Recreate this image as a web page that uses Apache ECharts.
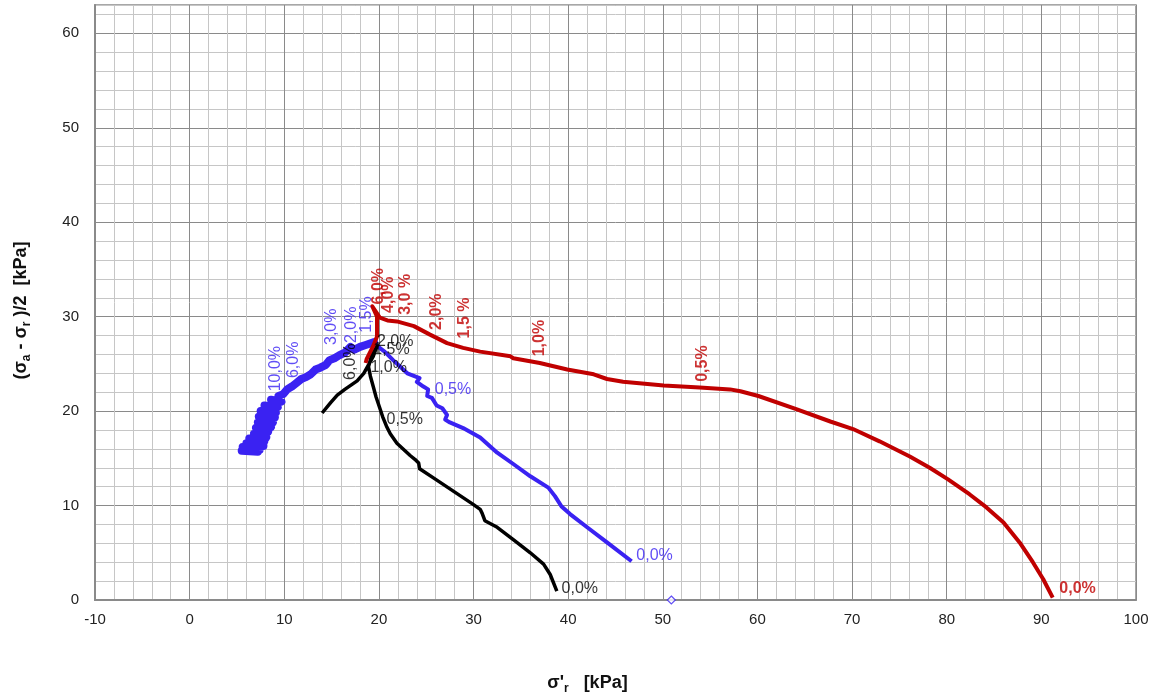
<!DOCTYPE html>
<html>
<head>
<meta charset="utf-8">
<script src="https://cdn.jsdelivr.net/npm/echarts@6/dist/echarts.min.js"></script>
<style>html,body{margin:0;padding:0;background:#fff}#c{width:1156px;height:700px}</style>
</head>
<body>
<div id="c"></div>
<script>
// ---- axis settings ----
const xMin = -10, xMax = 100, yMin = 0, yMax = 63;
const minorStep = 2, majorStep = 10;

// ---- red test (path from 0,0% to end) ----
const redPath = [
[91.2,0.25],[90.2,2.2],[89.1,4.0],[87.7,6.1],[86.0,8.2],[84.2,9.8],[82.4,11.2],[80.1,12.8],[78.2,14.0],[76.1,15.2],
[72.9,16.8],[70.1,18.1],[67.7,18.9],[64.1,20.2],[60.1,21.6],[58.2,22.1],[57.1,22.3],[53.9,22.5],[50.1,22.7],[45.8,23.1],
[44.1,23.4],[42.7,23.9],[39.9,24.4],[37.0,25.1],[34.2,25.6],[33.9,25.8],[30.7,26.3],[28.9,26.7],[27.2,27.2],[25.4,28.1],
[23.7,29.0],[21.9,29.5],[20.9,29.6],[20.1,29.9],[19.3,31.1],[19.8,30.0],[19.8,27.9],[19.4,26.9],[18.7,25.5],[18.6,25.1]
];
const redRotLabels = [[54.2,23.1,'0,5%'],[37.0,25.8,'1,0%'],[29.1,27.7,'1,5 %'],[26.1,28.6,'2,0%'],[22.8,30.2,'3,0 %'],[21.0,30.4,'4,0%'],[20.0,31.3,'6,0%']];
const redFlatLabels = [[91.9,1.2,'0,0%']];

// ---- blue test: loading part (0,0% -> peak) and post-peak band ----
const blueRisePath = [
[46.7,4.1],[44.1,6.1],[42.0,7.7],[40.2,9.1],[39.3,9.9],[38.6,11.0],[37.9,11.9],[36.0,13.1],[34.2,14.4],[32.5,15.6],
[30.7,17.2],[28.9,18.2],[27.5,18.8],[27.0,19.1],[27.2,19.6],[26.7,20.3],[26.1,20.6],[25.6,21.4],[25.1,21.6],[25.2,22.3],
[24.7,22.6],[24.0,23.1],[24.3,23.5],[23.0,24.0],[21.5,25.4],[20.6,26.3],[19.8,26.9],[19.5,27.3]
];
const blueBandPath = [
[19.5,27.3],[18.6,27.0],[18.0,26.8],[17.4,26.5],[17.0,26.8],[16.4,26.2],[15.8,25.9],[15.3,25.6],[14.8,25.4],[14.4,24.9],
[13.8,24.6],[13.3,24.4],[12.8,23.9],[12.3,23.6],[11.8,23.4],[11.3,23.0],[10.8,22.6],[10.3,22.3],[9.9,21.8],[9.4,21.6],
[9.7,21.0],[8.6,21.2],[9.3,20.4],[7.9,20.6],[9.1,19.8],[7.5,20.0],[9.0,19.3],[7.3,19.4],[8.8,18.8],[7.2,18.8],
[8.6,18.3],[7.0,18.2],[8.3,17.8],[6.8,17.6],[8.1,17.2],[6.3,17.1],[7.9,16.8],[6.0,16.6],[7.8,16.3],[5.6,16.2],
[7.4,15.9],[5.5,15.8],[7.2,15.7]
];
const blueRotLabels = [[9.05,22.1,'10,0%'],[11.0,23.5,'6,0%'],[15.0,27.0,'3,0%'],[17.1,27.2,'2,0%'],[18.7,28.3,'1,5%']];
const blueFlatLabels = [[25.9,22.3,'0,5%'],[47.2,4.65,'0,0%']];
const blueMarker = [[50.9,0]];

// ---- black test ----
const blackPath = [
[38.8,0.95],[38.1,2.7],[37.4,3.8],[36.0,5.0],[34.2,6.4],[32.5,7.7],[31.2,8.4],[30.9,9.2],[30.7,9.6],[30.0,10.1],
[27.9,11.5],[25.8,12.9],[24.3,13.9],[24.2,14.5],[23.8,14.9],[23.3,15.3],[21.9,16.6],[21.2,17.6],[20.8,18.4],[20.4,19.4],
[20.1,20.3],[19.7,21.5],[19.4,22.6],[19.1,23.7],[18.9,24.7],[19.2,25.8],[19.8,26.9],
[19.4,25.8],[18.4,24.0],[17.7,23.2],[16.4,22.3],[15.6,21.7],[14.9,20.9],[14.0,19.8]
];
const blackRotLabels = [[17.0,23.3,'6,0%']];
const blackFlatLabels = [[20.8,19.1,'0,5%'],[19.1,24.6,'1,0%'],[19.4,26.5,'1,5%'],[19.8,27.4,'2,0%'],[39.3,1.2,'0,0%']];

const RED = '#C00000', BLUE = '#3A22F2', BLACK = '#000000';
const FONT = 'Liberation Sans';

function labelSeries(data, color, rotated, bold) {
  return {
    type: 'scatter', data: data, symbolSize: 0, silent: true, z: 10,
    encode: {x: 0, y: 1},
    label: {
      show: true, position: [0, 0],
      formatter: p => p.data[2],
      rotate: rotated ? 90 : 0,
      align: 'left', verticalAlign: 'middle',
      color: color, fontSize: 16, fontFamily: FONT,
      fontWeight: bold ? 'bold' : 'normal'
    }
  };
}

const gridColors = ['#8a8a8a', '#c6c6c6', '#c6c6c6', '#c6c6c6', '#c6c6c6'];
const subRich = {
  b: {fontSize: 18, fontWeight: 'bold', fontFamily: FONT, color: '#111'},
  s: {fontSize: 12, fontWeight: 'bold', fontFamily: FONT, color: '#111', padding: [11, 0, 0, 0]}
};

const chart = echarts.init(document.getElementById('c'), null, {renderer: 'canvas'});
chart.setOption({
  animation: false,
  backgroundColor: '#fff',
  grid: {left: 95, right: 20, top: 5, bottom: 99, show: true, borderColor: '#8a8a8a', borderWidth: 1.5},
  xAxis: {
    type: 'value', min: xMin, max: xMax, interval: minorStep,
    axisLine: {show: true, onZero: false, lineStyle: {color: '#8a8a8a', width: 2}},
    axisTick: {show: false},
    axisLabel: {formatter: v => (v % majorStep === 0 ? String(v) : ''), color: '#222', fontSize: 15, fontFamily: FONT, margin: 12, showMaxLabel: true, showMinLabel: true},
    splitLine: {show: true, lineStyle: {color: gridColors, width: 1}},
    name: '{b|σ\'}{s|r}{b|   [kPa]}', nameLocation: 'middle', nameGap: 72,
    nameTextStyle: {rich: subRich, padding: [0, 56, 0, 0]}
  },
  yAxis: {
    type: 'value', min: yMin, max: yMax, interval: minorStep,
    axisLine: {show: true, onZero: false, lineStyle: {color: '#8a8a8a', width: 2}},
    axisTick: {show: false},
    axisLabel: {formatter: v => (v % majorStep === 0 ? String(v) : ''), color: '#222', fontSize: 15, fontFamily: FONT, margin: 16},
    splitLine: {show: true, lineStyle: {color: gridColors, width: 1}},
    name: '{b|(σ}{s|a}{b| - σ}{s|r}{b| )/2  [kPa]}', nameLocation: 'middle', nameGap: 62,
    nameTextStyle: {rich: subRich, padding: [0, 16, 0, 0]}
  },
  series: [
    {type: 'line', data: blueRisePath, symbol: 'none', silent: true, lineStyle: {color: BLUE, width: 4, join: 'round'}},
    {type: 'line', data: blueBandPath, symbol: 'none', silent: true, lineStyle: {color: BLUE, width: 8, join: 'round', cap: 'round'}},
    {type: 'line', data: blackPath, symbol: 'none', silent: true, lineStyle: {color: BLACK, width: 3.5, join: 'round'}},
    {type: 'line', data: redPath, symbol: 'none', silent: true, lineStyle: {color: RED, width: 4, join: 'round'}},
    {type: 'scatter', data: blueMarker, symbol: 'diamond', symbolSize: 8, silent: true,
     itemStyle: {color: '#fff', borderColor: BLUE, borderWidth: 1.2}},
    labelSeries(redRotLabels, RED, true, true),
    labelSeries(redFlatLabels, RED, false, true),
    labelSeries(blueRotLabels, BLUE, true, false),
    labelSeries(blueFlatLabels, BLUE, false, false),
    labelSeries(blackRotLabels, BLACK, true, false),
    labelSeries(blackFlatLabels, BLACK, false, false)
  ]
});
</script>
</body>
</html>
